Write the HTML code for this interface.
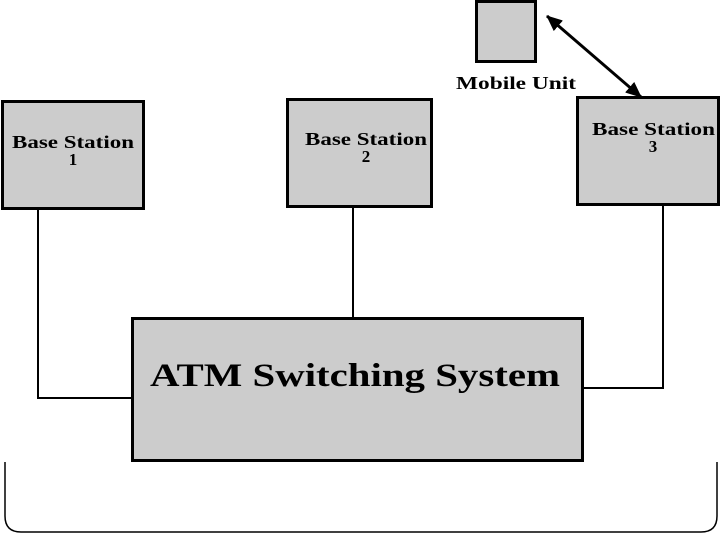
<!DOCTYPE html>
<html><head><style>
body{margin:0;width:720px;height:540px;background:#fff;overflow:hidden}
text{font-family:"Liberation Serif",serif;font-weight:bold;fill:#000}
</style></head><body>
<svg width="720" height="540" viewBox="0 0 720 540">
<defs><marker id="a" markerWidth="16" markerHeight="14" refX="15" refY="7" orient="auto-start-reverse" markerUnits="userSpaceOnUse"><path d="M0,0 L16,7 L0,14 Z" fill="#000"/></marker></defs>
<g fill="#ccc" stroke="#000" stroke-width="3">
<rect x="2.5" y="101.5" width="141" height="107"/>
<rect x="287.5" y="99.5" width="144" height="107"/>
<rect x="577.5" y="97.5" width="141" height="107"/>
<rect x="476.5" y="1.5" width="59" height="60"/>
<rect x="132.5" y="318.5" width="450" height="142"/>
</g>
<g stroke="#000" stroke-width="2" fill="none">
<path d="M38 209V398H132"/>
<path d="M353 207V318"/>
<path d="M663 205V388H583"/>
<path d="M547 16L641 97" marker-start="url(#a)" marker-end="url(#a)" stroke-width="3"/>
<path d="M5 462V516Q5 532 21 532H701Q717 532 717 516V462" stroke-width="1.5"/>
</g>
<text x="12" y="148" font-size="18" textLength="122" lengthAdjust="spacingAndGlyphs">Base Station</text>
<text x="73" y="165" font-size="17" text-anchor="middle">1</text>
<text x="305" y="145" font-size="18" textLength="122" lengthAdjust="spacingAndGlyphs">Base Station</text>
<text x="366" y="162" font-size="17" text-anchor="middle">2</text>
<text x="592" y="135" font-size="18" textLength="123" lengthAdjust="spacingAndGlyphs">Base Station</text>
<text x="653" y="152" font-size="17" text-anchor="middle">3</text>
<text x="456" y="89" font-size="18" textLength="120" lengthAdjust="spacingAndGlyphs">Mobile Unit</text>
<text x="150" y="386" font-size="33" textLength="410" lengthAdjust="spacingAndGlyphs">ATM Switching System</text>
</svg>
</body></html>
